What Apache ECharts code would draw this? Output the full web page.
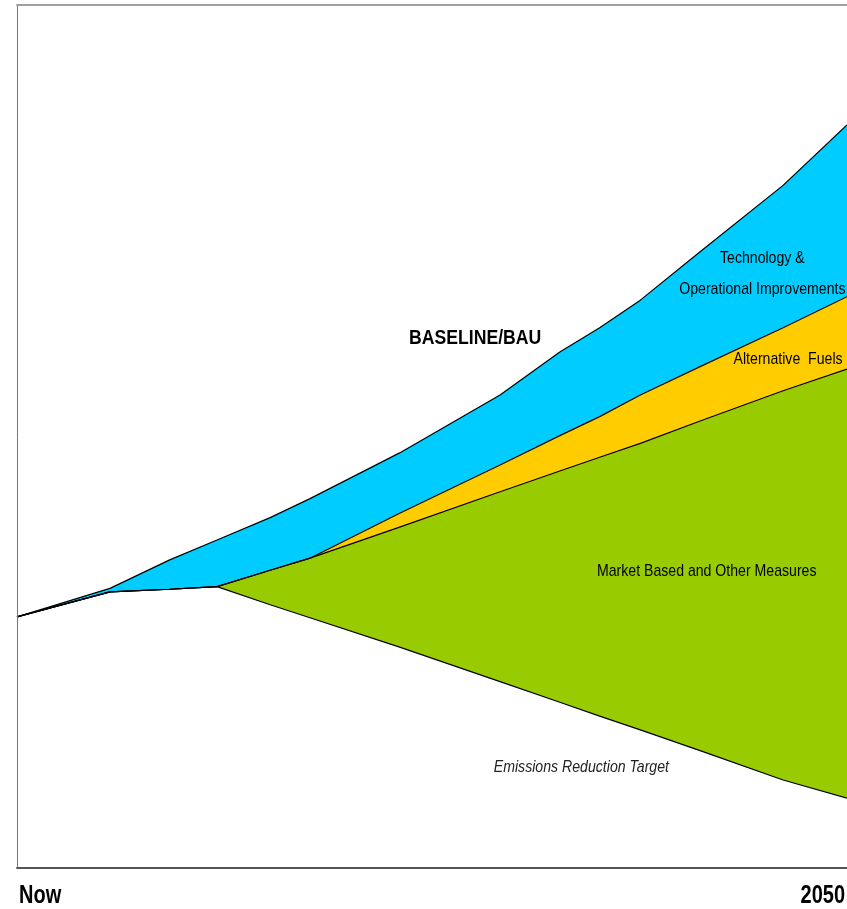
<!DOCTYPE html>
<html>
<head>
<meta charset="utf-8">
<script src="https://cdn.jsdelivr.net/npm/echarts@6/dist/echarts.min.js"></script>
<style>
html,body{margin:0;padding:0;background:#fff;overflow:hidden;}
#chart{width:847px;height:909px;}
</style>
</head>
<body>
<div id="chart"></div>
<script>
// Time axis: 0 = Now, 100 = 2050
var xValues = [0, 11.2, 18.4, 24.1, 30.5, 35.3, 46.1, 58.2, 65.4, 70.2, 75.1, 82.3, 92.3, 100];
// Emissions (index units)
var baseline   = [29.1, 32.4, 35.7, 38.0, 40.6, 42.8, 48.1, 54.8, 59.8, 62.6, 65.8, 71.4, 79.1, 86.1];
var techOps    = [29.1, 32.0, 32.3, 32.6, 34.5, 35.9, 41.1, 46.7, 50.1, 52.3, 54.8, 58.1, 62.6, 66.2];
var altFuels   = [29.1, 32.0, 32.3, 32.6, 34.5, 35.9, 39.5, 43.6, 46.0, 47.6, 49.2, 51.8, 55.3, 57.8];
var target     = [29.1, 32.0, 32.3, 32.6, 30.5, 29.0, 25.6, 21.6, 19.2, 17.6, 16.0, 13.6, 10.2, 8.1];
var axisLabels = ['Now', '2050'];

// Region labels: [text, x, y]
var regionLabels = [
  ['BASELINE/BAU', 55.2, 61.4],
  ['Technology &', 89.8, 70.7],
  ['Operational Improvements', 89.8, 67.1],
  ['Alternative  Fuels', 92.9, 59.0],
  ['Market Based and Other Measures', 83.1, 34.4],
  ['Emissions Reduction Target', 68.0, 11.7]
];

function pairs(ys){ return xValues.map(function(x,i){ return [x, ys[i]]; }); }

var FONT = "'Liberation Sans',Arial,sans-serif";

var chart = echarts.init(document.getElementById('chart'), null, {renderer:'canvas'});

function mk(name, data, color){
  return {
    name: name, type: 'line', data: pairs(data), symbol: 'none', smooth: false,
    lineStyle: {color: '#000', width: 1.2},
    areaStyle: {color: color, opacity: 1, origin: 'start'},
    silent: true, animation: false
  };
}

chart.setOption({
  animation: false,
  backgroundColor: '#fff',
  grid: {left: 17, right: 0, top: 5, bottom: 41},
  xAxis: [{
    type: 'value', min: 0, max: 100, interval: 100,
    axisLine: {show: true, lineStyle: {color: '#555', width: 2}},
    axisTick: {show: false}, splitLine: {show: false},
    axisLabel: {show: false},
    z: 10
  },{
    type: 'value', min: 0, max: 100, position: 'top',
    axisLine: {show: true, lineStyle: {color: '#a0a0a0', width: 2}},
    axisTick: {show: false}, splitLine: {show: false}, axisLabel: {show: false},
    z: 10
  }],
  yAxis: {
    type: 'value', min: 0, max: 100,
    axisLine: {show: true, lineStyle: {color: '#777', width: 1}},
    axisTick: {show: false}, splitLine: {show: false}, axisLabel: {show: false},
    z: 10
  },
  series: [
    mk('Baseline', baseline, '#00CCFF'),
    mk('Technology & Operational Improvements', techOps, '#FFCC00'),
    mk('Alternative Fuels', altFuels, '#99CC00'),
    mk('Emissions Reduction Target', target, '#FFFFFF')
  ]
});

var defaultStyle = {fontSize: 17, fontWeight: 'normal', fontStyle: 'normal', color: '#000', squeeze: 0.83};
var styles = {
  'BASELINE/BAU': {fontSize: 21, fontWeight: 'bold', fontStyle: 'normal', color: '#000', squeeze: 0.84},
  'Emissions Reduction Target': {fontSize: 17, fontWeight: 'normal', fontStyle: 'italic', color: '#222', squeeze: 0.83}
};
function txt(text, p, align, s){
  return {
    type: 'text', x: p[0], y: p[1], z: 100, scaleX: s.squeeze,
    style: {
      text: text, fill: s.color,
      font: s.fontStyle + ' ' + s.fontWeight + ' ' + s.fontSize + 'px ' + FONT,
      align: align, verticalAlign: 'middle'
    }
  };
}
var graphics = regionLabels.map(function(l){
  var p = chart.convertToPixel({gridIndex: 0}, [l[1], l[2]]);
  return txt(l[0], p, 'center', styles[l[0]] || defaultStyle);
});
// Axis end labels (Now / 2050) under the x axis
var axisStyle = {fontSize: 25, fontWeight: 'bold', fontStyle: 'normal', color: '#000', squeeze: 0.8};
var p0 = chart.convertToPixel({gridIndex: 0}, [0, 0]);
var p1 = chart.convertToPixel({gridIndex: 0}, [100, 0]);
graphics.push(txt(axisLabels[0], [p0[0] + 2, p0[1] + 28], 'left', axisStyle));
graphics.push(txt(axisLabels[1], [p1[0] - 2, p1[1] + 28], 'right', axisStyle));
chart.setOption({graphic: graphics});
</script>
</body>
</html>
